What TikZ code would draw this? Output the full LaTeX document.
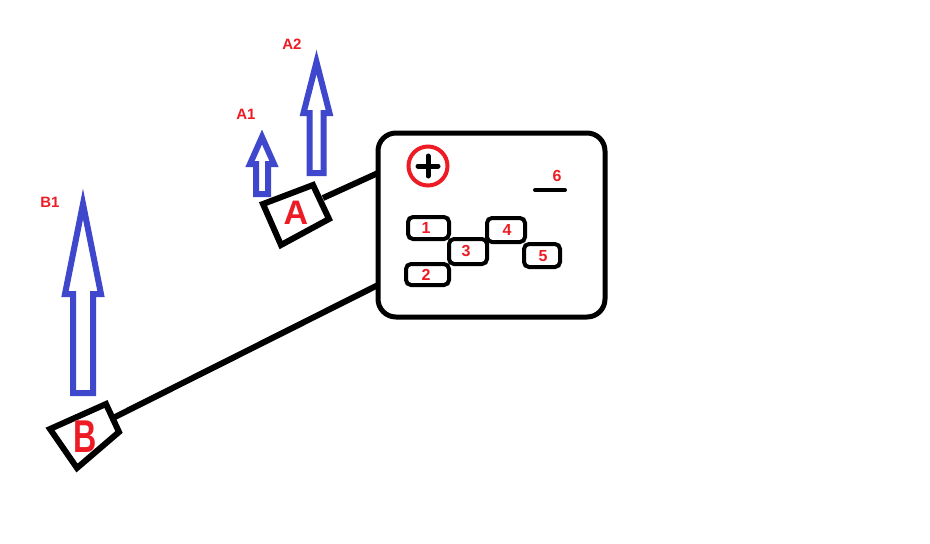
\documentclass[tikz,border=0pt]{standalone}
\usepackage{fontspec}
\setmainfont{Liberation Sans}
\definecolor{pblue}{RGB}{63,72,204}
\definecolor{pred}{RGB}{237,28,36}
\begin{document}
\begin{tikzpicture}[x=1pt,y=-1pt,
  blk/.style={draw=black,line width=6pt,line join=miter},
  conn/.style={draw=black,line width=6pt},
  keybox/.style={draw=black,line width=4pt,rounded corners=5pt,inner sep=0pt},
  arr/.style={draw=pblue,line width=6pt,line join=miter,miter limit=20},
  lbl/.style={text=pred,font=\bfseries\fontsize{15}{15}\selectfont,inner sep=0pt},
  num/.style={text=pred,font=\bfseries\fontsize{16}{16}\selectfont,inner sep=0pt}]
\useasboundingbox[fill=white] (0,0) rectangle (930,544);
% main panel
\node[draw=black,line width=5pt,rounded corners=18pt,minimum width=227pt,minimum height=184pt,inner sep=0pt] (panel) at (491.5,225) {};
% plus button
\node[draw=pred,line width=4pt,circle,minimum size=39pt,inner sep=0pt] (plus) at (428,166) {};
\draw[line width=5pt,line cap=round] ([xshift=-10pt]plus.center) -- ([xshift=10pt]plus.center);
\draw[line width=5pt,line cap=round] ([yshift=-10pt]plus.center) -- ([yshift=10pt]plus.center);
% item 6
\coordinate (s6a) at (535,190);
\coordinate (s6b) at (565,190);
\draw[line width=4pt,line cap=round] (s6a) -- (s6b);
\node[num] (n6) at (557,176) {6};
% key boxes
\node[keybox,minimum width=41pt,minimum height=22pt] (k1) at (428.5,228) {};
\node[keybox,minimum width=43pt,minimum height=21pt] (k2) at (427.5,274.5) {};
\node[keybox,minimum width=38pt,minimum height=25pt] (k3) at (468,251.5) {};
\node[keybox,minimum width=38pt,minimum height=24pt] (k4) at (506,230) {};
\node[keybox,minimum width=36pt,minimum height=23pt] (k5) at (542,255.5) {};
\node[num] at (426,228) {1};
\node[num] at (426,275) {2};
\node[num] at (466,251) {3};
\node[num] at (507,230) {4};
\node[num] at (543,256) {5};
% box A
\coordinate (a1) at (263,204);
\coordinate (a2) at (313,185);
\coordinate (a3) at (329,219);
\coordinate (a4) at (281,245);
\draw[blk] (a1) -- (a2) -- (a3) -- (a4) -- cycle;
\node[text=pred,font=\bfseries\fontsize{34}{34}\selectfont,inner sep=0pt] (la) at (296,213) {A};
% box B
\coordinate (b1) at (50,429);
\coordinate (b2) at (106,404);
\coordinate (b3) at (119,432);
\coordinate (b4) at (77,468);
\draw[blk] (b1) -- (b2) -- (b3) -- (b4) -- cycle;
\node[text=pred,inner sep=0pt] (lb) at (85,437) {\scalebox{0.7}[1]{\bfseries\fontsize{46}{46}\selectfont B}};
% connectors
\coordinate (ca) at (323,198);
\coordinate (pa) at (378,173);
\coordinate (cb) at (113,418);
\coordinate (pb) at (378,285);
\draw[conn] (ca) -- (pa);
\draw[conn] (cb) -- (pb);
% arrows
\draw[arr] (256,194) -- (256,164) -- (250,164) -- (262,137) -- (274,164) -- (268,164) -- (268,194) -- cycle;
\draw[arr] (309.5,173) -- (309.5,113) -- (303.5,113) -- (316.5,62) -- (329.5,113) -- (323.5,113) -- (323.5,173) -- cycle;
\draw[arr] (73,393) -- (73,294) -- (65,294) -- (83,204) -- (101,294) -- (93,294) -- (93,393) -- cycle;
% labels
\node[lbl] (ta2) at (292,44) {A2};
\node[lbl] (ta1) at (246,114) {A1};
\node[lbl] (tb1) at (50,202) {B1};
\end{tikzpicture}
\end{document}
